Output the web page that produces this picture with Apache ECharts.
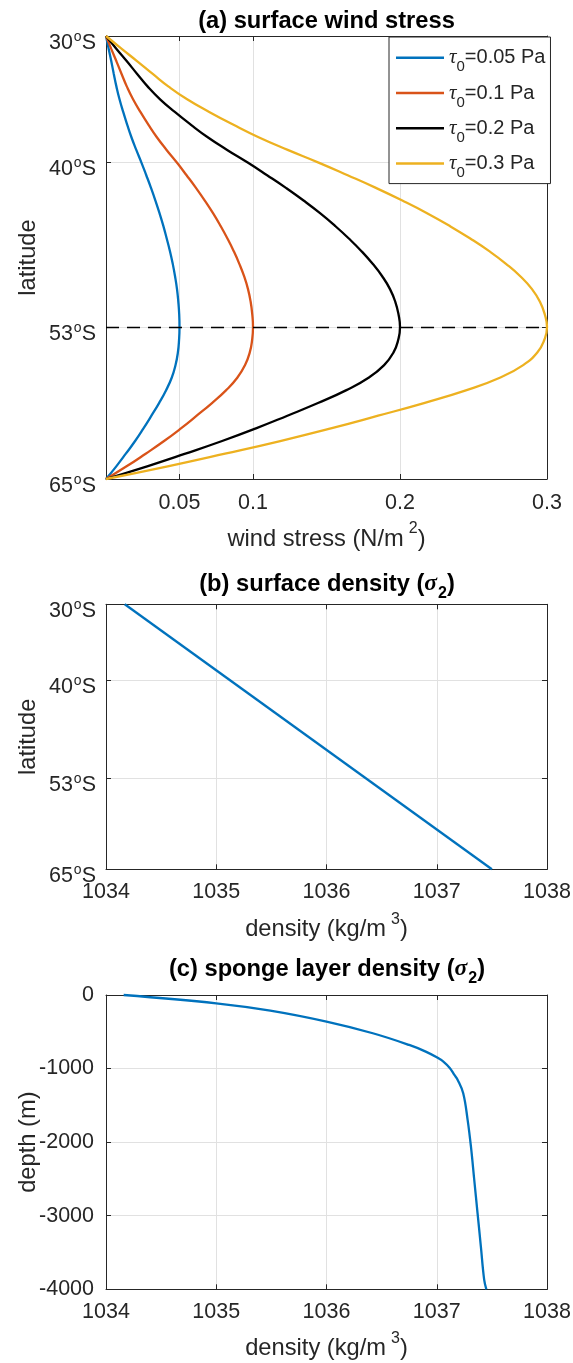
<!DOCTYPE html>
<html><head><meta charset="utf-8">
<script src="https://cdn.jsdelivr.net/npm/echarts@6/dist/echarts.min.js"></script>
<style>html,body{margin:0;padding:0;background:#fff}#c{width:573px;height:1363px}</style>
</head><body><div id="c"></div>
<script>
// ---------- data ----------
const lat = [30,31,32,33,34,35,36,37,38,39,40,41,42,43,44,45,46,47,48,49,50,51,52,53,54,55,56,57,58,59,60,61,62,63,64,65];
const tau005 = [0,0.0018,0.0036,0.0053,0.0071,0.0092,0.0117,0.0144,0.0173,0.0206,0.0241,0.0274,0.0306,0.0336,0.0364,0.039,0.0413,0.0435,0.0454,0.047,0.0483,0.0492,0.0498,0.05,0.0497,0.0489,0.0473,0.0447,0.0408,0.0361,0.0309,0.0255,0.0198,0.0135,0.007,0];
const tau01 = [0,0.0035,0.0071,0.0106,0.0142,0.0184,0.0234,0.0288,0.0346,0.0412,0.0482,0.0548,0.0612,0.0672,0.0728,0.0779,0.0826,0.0869,0.0907,0.094,0.0966,0.0984,0.0995,0.1,0.0994,0.0978,0.0946,0.0893,0.0816,0.0721,0.0617,0.051,0.0395,0.027,0.014,0];
const tau02 = [0,0.007,0.0142,0.0212,0.0284,0.0368,0.0468,0.0576,0.0692,0.0824,0.0964,0.1096,0.1224,0.1344,0.1456,0.1558,0.1652,0.1738,0.1814,0.188,0.1932,0.1968,0.199,0.2,0.1988,0.1956,0.1892,0.1786,0.1632,0.1442,0.1234,0.102,0.079,0.054,0.028,0];
const tau03 = [0,0.0105,0.0213,0.0318,0.0426,0.0552,0.0702,0.0864,0.1038,0.1236,0.1446,0.1644,0.1836,0.2016,0.2184,0.2337,0.2478,0.2607,0.2721,0.282,0.2898,0.2952,0.2985,0.3,0.2982,0.2934,0.2838,0.2679,0.2448,0.2163,0.1851,0.153,0.1185,0.081,0.042,0];
const tauLabels = ['0.05','0.1','0.2','0.3'];
const latTicks = [30,40,53,65];
const stressTicks = [0.05,0.1,0.2,0.3];
const peakLat = 53;
const latB = [30,65];
const rhoSurface = [1034.17,1037.5];
const depthC = [0,-113,-213,-362,-520,-679,-769,-846,-905,-995,-1086,-1154,-1335,-1697,-2059,-2511,-2964,-3416,-3869,-4000];
const rhoSponge = [1034.16,1035.0,1035.49,1036.0,1036.42,1036.75,1036.9,1037.0,1037.06,1037.12,1037.16,1037.19,1037.24,1037.28,1037.31,1037.34,1037.37,1037.4,1037.43,1037.45];

// ---------- styling ----------
const FONT = '"Liberation Sans", Arial, Helvetica, sans-serif';
const SERIF = '"Liberation Serif", serif';
const AX = '#262626';
const GRIDC = '#e1e1e1';
const colors = ['#0072BD','#D95319','#000000','#EDB120'];
const TICK = 21.5, LAB = 23.7, LEG = 20;
const LW = 2.3;
const names = tauLabels.map(t => 'τ0=' + t + ' Pa');

const mctx = document.createElement('canvas').getContext('2d');
function tw(font, s){ mctx.font = font; return mctx.measureText(s).width; }

const tickStyle = {show:true, inside:true, length:5, lineStyle:{color:AX, width:1}};
const lineAx = {show:true, onZero:false, lineStyle:{color:AX, width:1}};
const split = {show:true, lineStyle:{color:GRIDC, width:1}};

const latRich = {
  n:{fontFamily:FONT, fontSize:TICK, lineHeight:22, padding:[14,0,0,0], color:AX},
  o:{fontFamily:FONT, fontSize:14, lineHeight:14, padding:[2,0,0,1], color:AX}
};
function latFmt(v){ return '{n|' + v + '}{o|o}{n|S}'; }

const nameRich = {
  n:{fontFamily:FONT, fontSize:LAB, lineHeight:24, color:AX},
  s:{fontFamily:FONT, fontSize:16, lineHeight:16, padding:[0,0,20,5], color:AX}
};
const nameStyleBase = {fontFamily:FONT, fontSize:LAB, color:AX};

function latAxis(gi){
  return {
    gridIndex:gi, type:'value', inverse:true, min:30, max:65, position:'left',
    axisLine:lineAx, axisTick:Object.assign({customValues:latTicks}, tickStyle),
    axisLabel:{customValues:latTicks, formatter:latFmt, rich:latRich, margin:10},
    splitLine:split,
    name:'latitude', nameLocation:'middle', nameGap:66, nameRotate:90, nameMoveOverlap:false,
    nameTextStyle:nameStyleBase
  };
}
function latAxisR(gi){
  return {gridIndex:gi, type:'value', inverse:true, min:30, max:65, position:'right',
    axisLine:lineAx, axisTick:Object.assign({customValues:[40,53]}, tickStyle),
    axisLabel:{show:false}, splitLine:{show:false}};
}
function rhoAxis(gi, nameGap){
  return {gridIndex:gi, type:'value', min:1034, max:1038, interval:1, position:'bottom',
    axisLine:lineAx, axisTick:tickStyle,
    axisLabel:{formatter:v => String(v), fontFamily:FONT, fontSize:TICK, color:AX, margin:12},
    splitLine:split,
    name:'{n|density (kg/m}{s|3}{n|)}', nameLocation:'middle', nameGap:nameGap, nameMoveOverlap:false,
    nameTextStyle:Object.assign({rich:nameRich}, nameStyleBase)};
}
function rhoAxisTop(gi){
  return {gridIndex:gi, type:'value', min:1034, max:1038, interval:1, position:'top',
    axisLine:lineAx, axisTick:tickStyle, axisLabel:{show:false}, splitLine:{show:false}};
}

const BOLD = 'bold ' + LAB + 'px ' + FONT;
const titleRich = {
  b:{fontFamily:FONT, fontSize:LAB, fontWeight:'bold', lineHeight:24, color:'#000'},
  g:{fontFamily:SERIF, fontSize:LAB, fontStyle:'italic', lineHeight:24, color:'#000'},
  s:{fontFamily:FONT, fontSize:16, fontWeight:'bold', lineHeight:16, padding:[20,0,0,1], color:'#000'}
};
function mkTitle(head, withSigma, top){
  let text, w;
  if (withSigma) {
    text = '{b|' + head + ' (}{g|σ}{s|2}{b|)}';
    w = tw(BOLD, head + ' (') + tw('italic ' + LAB + 'px ' + SERIF, 'σ') + tw('bold 16px ' + FONT, '2') + 1 + tw(BOLD, ')');
  } else {
    text = '{b|' + head + '}';
    w = tw(BOLD, head);
  }
  return {text:text, left:326.5 - w/2, top:top, padding:0, itemGap:0,
    textStyle:{fontFamily:FONT, fontSize:LAB, fontWeight:'bold', color:'#000', rich:titleRich}};
}

const seriesA = [tau005, tau01, tau02, tau03].map((vals,k) => ({
  type:'line', name:names[k], xAxisIndex:0, yAxisIndex:0,
  data: lat.map((la,i) => [vals[i], la]),
  symbol:'none', showSymbol:false, smooth:0.5, smoothConstraint:false, clip:false,
  lineStyle:{color:colors[k], width:LW}, itemStyle:{color:colors[k]}, z:3
}));
seriesA[0].markLine = {silent:true, symbol:'none', animation:false,
  label:{show:false}, lineStyle:{color:'#000', type:[13,8], width:1.4},
  data:[{yAxis:peakLat}]};

const option = {
  animation:false,
  backgroundColor:'#fff',
  textStyle:{fontFamily:FONT},
  title:[
    mkTitle('(a) surface wind stress', false, 9),
    mkTitle('(b) surface density', true, 572),
    mkTitle('(c) sponge layer density', true, 957)
  ],
  legend:{
    show:true, orient:'vertical', left:389, top:37,
    backgroundColor:'#fff', borderColor:AX, borderWidth:1, borderRadius:0,
    padding:[3.7,5,3,7], itemWidth:48, itemHeight:2.5, itemGap:1.3, icon:'rect',
    data:names,
    formatter: name => '{t|τ}{s|0}{n|=' + tauLabels[names.indexOf(name)] + ' Pa}',
    textStyle:{fontFamily:FONT, fontSize:LEG, color:AX, rich:{
      t:{fontFamily:SERIF, fontStyle:'italic', fontSize:LEG+1, lineHeight:20, color:AX},
      s:{fontFamily:FONT, fontSize:15, lineHeight:15, padding:[19,0,0,0], color:AX},
      n:{fontFamily:FONT, fontSize:LEG, lineHeight:20, color:AX}
    }}
  },
  grid:[
    {left:106, top:36, width:441, height:443, containLabel:false, outerBoundsMode:'none'},
    {left:106, top:604.3, width:441, height:265, containLabel:false, outerBoundsMode:'none'},
    {left:106, top:995, width:441, height:294.3, containLabel:false, outerBoundsMode:'none'}
  ],
  xAxis:[
    {gridIndex:0, type:'value', min:0, max:0.3, position:'bottom',
      axisLine:lineAx, axisTick:Object.assign({customValues:stressTicks}, tickStyle),
      axisLabel:{customValues:stressTicks, formatter:v => String(v), fontFamily:FONT, fontSize:TICK, color:AX, margin:13},
      splitLine:split,
      name:'{n|wind stress (N/m}{s|2}{n|)}', nameLocation:'middle', nameGap:48, nameMoveOverlap:false,
      nameTextStyle:Object.assign({rich:nameRich}, nameStyleBase)},
    {gridIndex:0, type:'value', min:0, max:0.3, position:'top',
      axisLine:lineAx, axisTick:Object.assign({customValues:[0.05,0.1,0.2]}, tickStyle),
      axisLabel:{show:false}, splitLine:{show:false}},
    rhoAxis(1, 48), rhoAxisTop(1),
    rhoAxis(2, 47), rhoAxisTop(2)
  ],
  yAxis:[
    latAxis(0), latAxisR(0),
    latAxis(1), latAxisR(1),
    {gridIndex:2, type:'value', min:-4000, max:0, interval:1000, position:'left',
      axisLine:lineAx, axisTick:tickStyle,
      axisLabel:{formatter:v => String(v), fontFamily:FONT, fontSize:TICK, color:AX, margin:12},
      splitLine:split,
      name:'depth (m)', nameLocation:'middle', nameGap:66, nameRotate:90, nameMoveOverlap:false,
      nameTextStyle:nameStyleBase},
    {gridIndex:2, type:'value', min:-4000, max:0, interval:1000, position:'right',
      axisLine:lineAx, axisTick:tickStyle, axisLabel:{show:false}, splitLine:{show:false}}
  ],
  series: seriesA.concat([
    {type:'line', name:'surface', xAxisIndex:2, yAxisIndex:2,
      data: latB.map((la,i) => [rhoSurface[i], la]),
      symbol:'none', showSymbol:false, clip:false,
      lineStyle:{color:colors[0], width:LW}, itemStyle:{color:colors[0]}},
    {type:'line', name:'sponge', xAxisIndex:4, yAxisIndex:4,
      data: depthC.map((d,i) => [rhoSponge[i], d]),
      symbol:'none', showSymbol:false, smooth:0.4, smoothConstraint:false, clip:false,
      lineStyle:{color:colors[0], width:LW}, itemStyle:{color:colors[0]}}
  ])
};
const chart = echarts.init(document.getElementById('c'), null, {renderer:'canvas'});
chart.setOption(option);
</script></body></html>
